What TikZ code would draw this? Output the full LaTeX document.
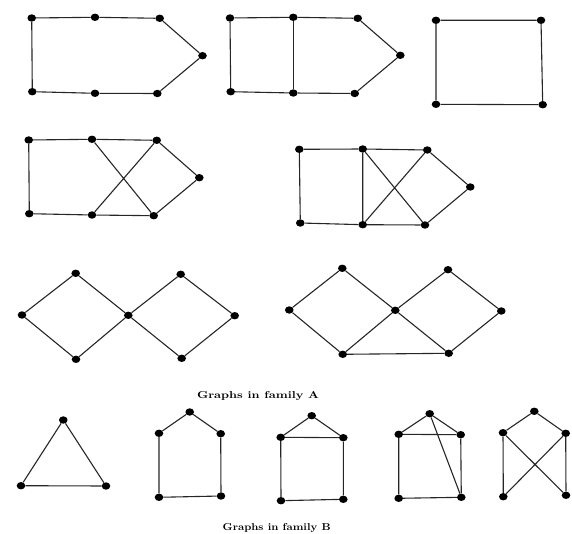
\documentclass[tikz,border=0pt]{standalone}
\usepackage{tikz}
\usetikzlibrary{shapes.geometric}
\tikzset{
  gv/.style={ellipse,fill=black,minimum width=8.6pt,minimum height=7.4pt,
    inner sep=0pt},
  gedge/.style={line width=1.1pt,black!85},
  famlbl/.style={font=\bfseries\normalsize,xscale=1.25},
}

\begin{document}
\begin{tikzpicture}[x=1pt,y=-1pt]
  \useasboundingbox (0,0) rectangle (572,534);
  % --- family A, first row ---
  \node[gv] (a1) at (31.7,18) {};
  \node[gv] (a2) at (95,17.3) {};
  \node[gv] (a3) at (159.7,18.3) {};
  \node[gv] (a4) at (202.5,55.7) {};
  \node[gv] (a5) at (157.3,93.5) {};
  \node[gv] (a6) at (95,93.3) {};
  \node[gv] (a7) at (32.3,91.7) {};
  \draw[gedge] (a1)--(a2)--(a3)--(a4)--(a5)--(a6)--(a7)--(a1);

  \node[gv] (b1) at (230,18) {};
  \node[gv] (b2) at (293.3,17.3) {};
  \node[gv] (b3) at (357.7,18.3) {};
  \node[gv] (b4) at (400.3,55.3) {};
  \node[gv] (b5) at (354.7,93.5) {};
  \node[gv] (b6) at (293.3,93) {};
  \node[gv] (b7) at (230.7,91.7) {};
  \draw[gedge] (b1)--(b2)--(b3)--(b4)--(b5)--(b6)--(b7)--(b1);
  \draw[gedge] (b2)--(b6);

  \node[gv] (c1) at (436,20.3) {};
  \node[gv] (c2) at (541,20.3) {};
  \node[gv] (c3) at (542.7,104.7) {};
  \node[gv] (c4) at (436,104.3) {};
  \draw[gedge] (c1)--(c2)--(c3)--(c4)--(c1);

  % --- family A, second row ---
  \node[gv] (d1) at (28.7,140) {};
  \node[gv] (d2) at (92,139.3) {};
  \node[gv] (d3) at (156.7,140.3) {};
  \node[gv] (d4) at (199.3,177.7) {};
  \node[gv] (d5) at (153.7,215.7) {};
  \node[gv] (d6) at (92,215) {};
  \node[gv] (d7) at (29.3,213.7) {};
  \draw[gedge] (d1)--(d2)--(d3)--(d4)--(d5)--(d6)--(d7)--(d1);
  \draw[gedge] (d2)--(d5) (d3)--(d6);

  \node[gv] (e1) at (299.3,149.3) {};
  \node[gv] (e2) at (362.7,149) {};
  \node[gv] (e3) at (427.3,150) {};
  \node[gv] (e4) at (470.3,187) {};
  \node[gv] (e5) at (425,225) {};
  \node[gv] (e6) at (362.7,224.7) {};
  \node[gv] (e7) at (300.3,223) {};
  \draw[gedge] (e1)--(e2)--(e3)--(e4)--(e5)--(e6)--(e7)--(e1);
  \draw[gedge] (e2)--(e6) (e2)--(e5) (e3)--(e6);

  % --- family A, third row ---
  \node[gv] (f1) at (22,315) {};
  \node[gv] (f2) at (75.7,273.3) {};
  \node[gv] (f3) at (128.3,315.3) {};
  \node[gv] (f4) at (180.7,274.3) {};
  \node[gv] (f5) at (234.7,315.7) {};
  \node[gv] (f6) at (181.7,358.3) {};
  \node[gv] (f7) at (76,359.3) {};
  \draw[gedge] (f1)--(f2)--(f3)--(f7)--(f1);
  \draw[gedge] (f3)--(f4)--(f5)--(f6)--(f3);

  \node[gv] (g1) at (289.3,310) {};
  \node[gv] (g2) at (342.3,268.3) {};
  \node[gv] (g3) at (395.3,310.3) {};
  \node[gv] (g4) at (448,269.7) {};
  \node[gv] (g5) at (501.3,311) {};
  \node[gv] (g6) at (448.7,353.3) {};
  \node[gv] (g7) at (342.7,354.3) {};
  \draw[gedge] (g1)--(g2)--(g3)--(g7)--(g1);
  \draw[gedge] (g3)--(g4)--(g5)--(g6)--(g3);
  \draw[gedge] (g7)--(g6);

  \node[famlbl] (lblA) at (258,396) {Graphs in family A};

  % --- family B ---
  \node[gv] (h1) at (63.3,420) {};
  \node[gv] (h2) at (21,485.7) {};
  \node[gv] (h3) at (106,486) {};
  \draw[gedge] (h1)--(h2)--(h3)--(h1);

  \node[gv] (i1) at (189.7,412) {};
  \node[gv] (i2) at (159,433.3) {};
  \node[gv] (i3) at (220.7,433.7) {};
  \node[gv] (i4) at (221,496) {};
  \node[gv] (i5) at (159,497.3) {};
  \draw[gedge] (i1)--(i2)--(i5)--(i4)--(i3)--(i1);

  \node[gv] (j1) at (311.7,415.7) {};
  \node[gv] (j2) at (280.7,437.3) {};
  \node[gv] (j3) at (343.3,437.7) {};
  \node[gv] (j4) at (343.3,499.3) {};
  \node[gv] (j5) at (281,500.7) {};
  \draw[gedge] (j1)--(j2)--(j5)--(j4)--(j3)--(j1);
  \draw[gedge] (j2)--(j3);

  \node[gv] (k1) at (429.7,413.7) {};
  \node[gv] (k2) at (398.7,434.3) {};
  \node[gv] (k3) at (460.7,434.7) {};
  \node[gv] (k4) at (461.3,497.3) {};
  \node[gv] (k5) at (398.7,498.3) {};
  \draw[gedge] (k1)--(k2)--(k5)--(k4)--(k3)--(k1);
  \draw[gedge] (k2)--(k3) (k1)--(k4);

  \node[gv] (l1) at (534.3,411.3) {};
  \node[gv] (l2) at (503,432.7) {};
  \node[gv] (l3) at (565.7,433.3) {};
  \node[gv] (l4) at (566,495.3) {};
  \node[gv] (l5) at (503.3,496.7) {};
  \draw[gedge] (l2)--(l1)--(l3);
  \draw[gedge] (l2)--(l5) (l3)--(l4) (l2)--(l4) (l3)--(l5);

  \node[famlbl,xscale=0.89] (lblB) at (276.7,528) {Graphs in family B};
\end{tikzpicture}
\end{document}
